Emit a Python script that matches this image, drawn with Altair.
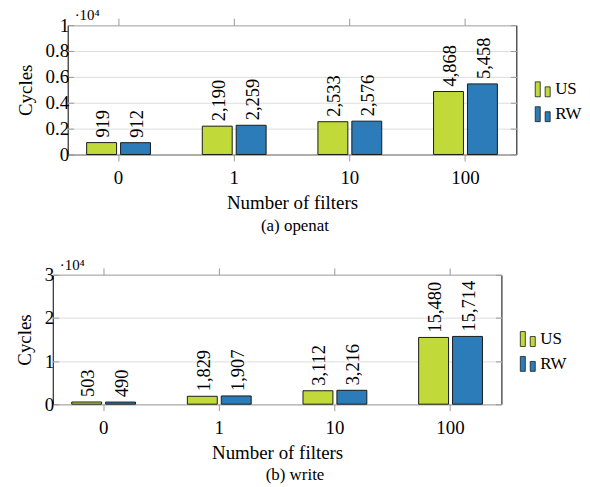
import altair as alt
import pandas as pd

categories = ["0", "1", "10", "100"]
series = ["US", "RW"]
openat_us = [919, 2190, 2533, 4868]
openat_rw = [912, 2259, 2576, 5458]
write_us = [503, 1829, 3112, 15480]
write_rw = [490, 1907, 3216, 15714]
openat_ticks = [0, 0.2, 0.4, 0.6, 0.8, 1]
write_ticks = [0, 1, 2, 3]

FONT = "Liberation Serif"
COLORS = ["#c1da3a", "#2b7cb9"]
TICK = "#999999"
LEGEND_SHAPE = "M-1,-1H-0.33V1H-1Z M0.33,-0.33H1V1H0.33Z"


def frame(us, rw):
    rows = []
    for c, u, r in zip(categories, us, rw):
        rows.append({"filters": c, "series": "US", "cycles": u})
        rows.append({"filters": c, "series": "RW", "cycles": r})
    return pd.DataFrame(rows)


def panel(us, rw, ymax, ticks, caption, cap_dx):
    df = frame(us, rw)
    base = alt.Chart(df).transform_calculate(scaled="datum.cycles / 10000")
    xscale = alt.Scale(domain=categories, paddingInner=0.448, paddingOuter=0.164)
    yscale = alt.Scale(domain=[0, ymax], nice=False)
    offscale = alt.Scale(domain=series, paddingInner=0.118, paddingOuter=0)

    bars = base.mark_bar(stroke="#1a1a1a", strokeWidth=1).encode(
        x=alt.X("filters:N", scale=xscale, sort=categories,
                axis=alt.Axis(title="Number of filters", orient="bottom", labelAngle=0,
                              domain=False, tickColor=TICK, tickSize=6.5,
                              labelFont=FONT, labelFontSize=19, labelPadding=8,
                              labelColor="black", titleFont=FONT, titleFontSize=19,
                              titleFontWeight="normal", titleColor="black",
                              titlePadding=6)),
        xOffset=alt.XOffset("series:N", scale=offscale, sort=series),
        y=alt.Y("scaled:Q", scale=yscale,
                axis=alt.Axis(values=ticks, format="~g", title="Cycles", orient="left",
                              domain=False, tickColor=TICK,
                              tickSize=alt.ExprRef(expr="-6"),
                              labelFont=FONT, labelFontSize=19, labelPadding=5,
                              labelColor="black", titleFont=FONT, titleFontSize=19,
                              titleFontWeight="normal", titleColor="black",
                              titlePadding=10)),
        color=alt.Color("series:N", scale=alt.Scale(domain=series, range=COLORS),
                        sort=series,
                        legend=alt.Legend(title=None, orient="none", legendX=469,
                                          legendY=56, padding=0,
                                          symbolType=LEGEND_SHAPE, symbolSize=225,
                                          symbolStrokeColor="#1a1a1a",
                                          symbolStrokeWidth=0.8,
                                          labelFont=FONT, labelFontSize=17,
                                          labelColor="black", labelOffset=4,
                                          rowPadding=6)),
    )

    labels = base.mark_text(angle=270, align="left", baseline="middle", dx=5, dy=1.5,
                            font=FONT, fontSize=18.5, color="black").encode(
        x=alt.X("filters:N", scale=xscale, sort=categories,
                axis=alt.Axis(orient="top", labels=False, title=None, domain=False,
                              tickColor=TICK, tickSize=7)),
        xOffset=alt.XOffset("series:N", scale=offscale, sort=series),
        y=alt.Y("scaled:Q", scale=yscale,
                axis=alt.Axis(orient="right", labels=False, title=None, values=ticks,
                              domain=False, tickColor=TICK,
                              tickSize=alt.ExprRef(expr="-6"))),
        text=alt.Text("cycles:Q", format=","),
    )

    exp = alt.Chart(pd.DataFrame({"t": ["·10⁴"]})).mark_text(
        align="left", baseline="alphabetic", font=FONT, fontSize=15, color="black"
    ).encode(x=alt.value(7), y=alt.value(-5), text="t:N")

    layered = (
        alt.layer(bars, labels, exp)
        .resolve_axis(x="independent", y="independent")
        .properties(
            width=451, height=130,
            title=alt.TitleParams(caption, orient="bottom", anchor="middle",
                                  font=FONT, fontSize=17, fontWeight="normal",
                                  color="black", offset=5, dx=cap_dx),
        )
    )
    spacer = (
        alt.Chart(pd.DataFrame({"a": [0]}))
        .mark_point(opacity=0)
        .properties(width=1, height=1, view=alt.ViewBackground(strokeOpacity=0))
    )
    return (
        alt.hconcat(spacer, layered, spacing=0)
        .resolve_scale(color="independent")
        .resolve_legend(color="independent")
    )


top = panel(openat_us, openat_rw, 1, openat_ticks, "(a) openat", 3)
bottom = panel(write_us, write_rw, 3, write_ticks, "(b) write", 18)

chart = (
    alt.vconcat(top, bottom, spacing=23)
    .resolve_scale(color="independent")
    .resolve_legend(color="independent")
    .properties(padding={"left": 0, "top": -2, "right": -1, "bottom": 0})
    .configure_view(stroke="black", strokeWidth=1)
)

chart.save("out.html", embed_options={"renderer": "svg", "actions": False})
